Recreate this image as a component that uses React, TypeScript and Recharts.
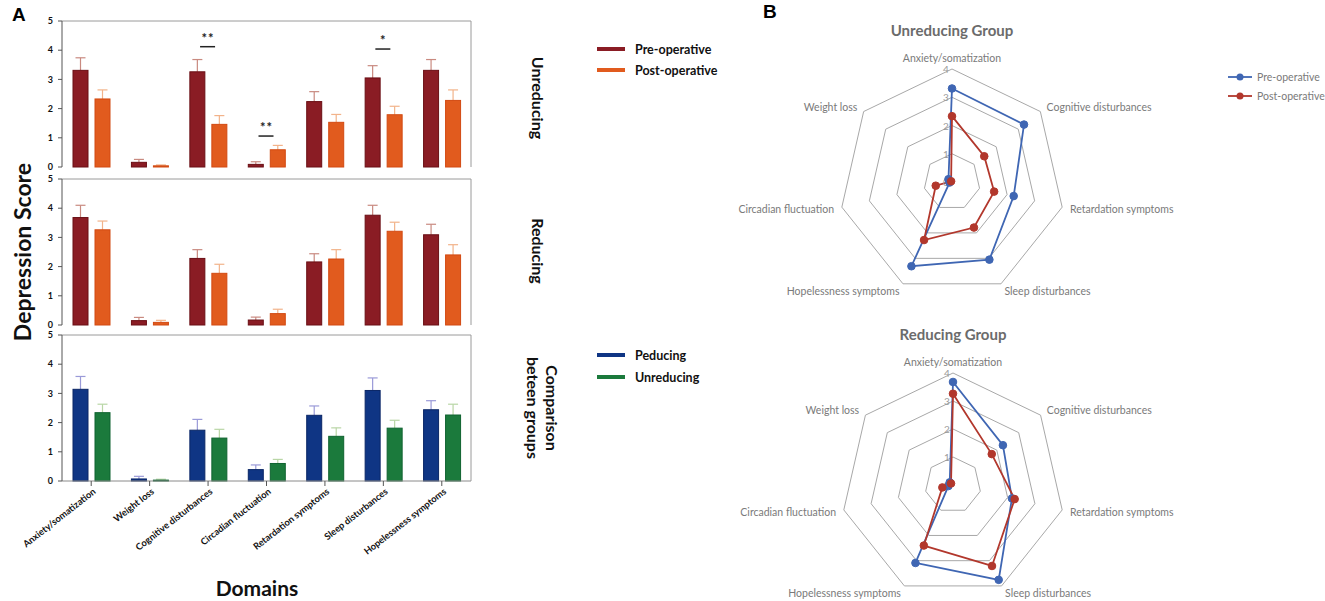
import React from 'react'
import {
  BarChart,
  Bar,
  XAxis,
  YAxis,
  ReferenceLine,
  ReferenceDot,
  RadarChart,
  Radar,
  PolarGrid,
  PolarAngleAxis,
  PolarRadiusAxis,
} from 'recharts'

const domains = [
  'Anxiety/somatization',
  'Weight loss',
  'Cognitive disturbances',
  'Circadian fluctuation',
  'Retardation symptoms',
  'Sleep disturbances',
  'Hopelessness symptoms',
]

// Unreducing group
const unredPre = [3.31, 0.16, 3.26, 0.09, 2.24, 3.05, 3.31]
const unredPreErr = [0.43, 0.1, 0.42, 0.09, 0.34, 0.42, 0.37]
const unredPost = [2.33, 0.04, 1.46, 0.59, 1.53, 1.79, 2.28]
const unredPostErr = [0.31, 0.03, 0.3, 0.15, 0.27, 0.29, 0.36]

// Reducing group
const redPre = [3.68, 0.15, 2.28, 0.17, 2.16, 3.76, 3.09]
const redPreErr = [0.42, 0.11, 0.3, 0.1, 0.28, 0.34, 0.36]
const redPost = [3.26, 0.09, 1.77, 0.39, 2.26, 3.21, 2.4]
const redPostErr = [0.3, 0.07, 0.31, 0.15, 0.32, 0.31, 0.35]

// Comparison between groups
const cmpRed = [3.14, 0.07, 1.74, 0.39, 2.25, 3.1, 2.44]
const cmpRedErr = [0.44, 0.09, 0.37, 0.16, 0.32, 0.43, 0.31]
const cmpUnred = [2.34, 0.03, 1.47, 0.6, 1.53, 1.81, 2.26]
const cmpUnredErr = [0.29, 0.03, 0.3, 0.14, 0.29, 0.27, 0.37]

const yTicks = [0, 1, 2, 3, 4, 5]

// significance marks in the unreducing panel
const sigDomains = ['Cognitive disturbances', 'Circadian fluctuation', 'Sleep disturbances']
const sigLevels = [4.12, 1.06, 4.04]
const sigMarks = ['**', '**', '*']

// radar axis order, clockwise from top
const radarOrder = [
  'Anxiety/somatization',
  'Cognitive disturbances',
  'Retardation symptoms',
  'Sleep disturbances',
  'Hopelessness symptoms',
  'Circadian fluctuation',
  'Weight loss',
]
const radarTicks = [0, 1, 2, 3, 4]

const FONT = 'Lato, "Noto Sans", sans-serif'
const BLUE = '#3f66b3'
const RED = '#b2372c'

const SERIES = {
  pre: { fill: '#8a1c24', stroke: '#6a0e14', err: '#c98a80' },
  post: { fill: '#e15b1e', stroke: '#d24a12', err: '#f2b38a' },
  red: { fill: '#0f3584', stroke: '#0a2666', err: '#9a9ad8' },
  unred: { fill: '#1b7a3c', stroke: '#0f6230', err: '#b9d6a6' },
}

// bar with an upward-only error whisker, scaled from the bar's own pixel height
const barWithError = (valKey: string, errKey: string, c: { fill: string; stroke: string; err: string }) =>
  (props: any) => {
    const { x, y, width, height, payload } = props
    const v = payload[valKey]
    const ppu = v ? height / v : 0
    const top = y - payload[errKey] * ppu
    const cx = x + width / 2
    return (
      <g>
        <line x1={cx} y1={y} x2={cx} y2={top} stroke={c.err} strokeWidth={1.2} />
        <line x1={cx - 5} y1={top} x2={cx + 5} y2={top} stroke={c.err} strokeWidth={1.2} />
        <rect x={x} y={y} width={width} height={height} fill={c.fill} stroke={c.stroke} strokeWidth={1} />
      </g>
    )
  }

const DomainTick = ({ x, y, payload }: any) => (
  <text
    x={x + 3}
    y={y + 2}
    transform={`rotate(-38, ${x + 3}, ${y + 2})`}
    textAnchor="end"
    dominantBaseline="central"
    fontSize={9.3}
    fontWeight={700}
    fontFamily={FONT}
    fill="#111"
  >
    {payload.value}
  </text>
)

const SigMark = (label: string) => (props: any) => {
  const { cx, cy } = props
  return (
    <g>
      <line x1={cx - 8} y1={cy} x2={cx + 7} y2={cy} stroke="#222" strokeWidth={1.5} />
      <text x={cx} y={cy - 4} textAnchor="middle" fontSize={13} fontWeight={700} fontFamily={FONT} fill="#222" letterSpacing={1}>
        {label}
      </text>
    </g>
  )
}

interface ScoreChartProps {
  a: number[]
  aErr: number[]
  b: number[]
  bErr: number[]
  ca: { fill: string; stroke: string; err: string }
  cb: { fill: string; stroke: string; err: string }
  top: number
  bottomAxis?: boolean
  marks?: boolean
}

function ScoreChart({ a, aErr, b, bErr, ca, cb, top, bottomAxis, marks }: ScoreChartProps) {
  const data = domains.map((name, i) => ({ name, a: a[i], aErr: aErr[i], b: b[i], bErr: bErr[i] }))
  const axisH = bottomAxis ? 80 : 0
  const padB = bottomAxis ? 0 : 7
  return (
    <div style={{ position: 'absolute', left: 0, top }}>
      <BarChart
        width={480}
        height={13 + 146 + axisH + padB}
        data={data}
        margin={{ top: 13, right: 8, left: 0, bottom: padB }}
        barGap={7}
        barSize={15}
      >
        <XAxis
          dataKey="name"
          height={axisH}
          axisLine={{ stroke: '#8a8a8a' }}
          tickLine={bottomAxis ? { stroke: '#555' } : false}
          tickSize={5}
          tick={bottomAxis ? <DomainTick /> : false}
          interval={0}
        />
        <YAxis
          domain={[0, 5]}
          ticks={yTicks}
          width={62}
          interval={0}
          axisLine={{ stroke: '#555' }}
          tickLine={{ stroke: '#555' }}
          tickSize={4}
          tickMargin={5}
          tick={{ fontSize: 9, fontWeight: 700, fill: '#111', fontFamily: FONT }}
        />
        <YAxis yAxisId="frame" orientation="right" domain={[0, 5]} width={1} tick={false} tickLine={false} axisLine={{ stroke: '#9a9a9a' }} />
        <ReferenceLine y={5} stroke="#9a9a9a" />
        <Bar dataKey="a" isAnimationActive={false} shape={barWithError('a', 'aErr', ca)} />
        <Bar dataKey="b" isAnimationActive={false} shape={barWithError('b', 'bErr', cb)} />
        {marks &&
          sigDomains.map((d, i) => (
            <ReferenceDot key={d} x={d} y={sigLevels[i]} shape={SigMark(sigMarks[i])} />
          ))}
      </BarChart>
    </div>
  )
}

const AngleTick = ({ x, y, textAnchor, payload }: any) => (
  <text
    x={x}
    y={textAnchor === 'middle' ? y - 3 : y}
    textAnchor={textAnchor}
    dominantBaseline="central"
    fontSize={10.5}
    fontFamily={FONT}
    fill="#7a7a7a"
  >
    {payload.value}
  </text>
)

const RadiusTick = ({ x, y, payload }: any) => (
  <text x={x - 6} y={y} textAnchor="middle" dominantBaseline="central" fontSize={10} fontFamily={FONT} fill="#9a9a9a">
    {payload.value}
  </text>
)

const radarDot = (color: string) => (p: any) => (
  <circle key={`${color}-${p.index}`} cx={p.cx} cy={p.cy} r={3.8} fill={color} stroke={color} />
)

function GroupRadar({ pre, post, left, top, h, cx, cy, r }: any) {
  const data = radarOrder.map((d) => {
    const i = domains.indexOf(d)
    return { domain: d, pre: pre[i], post: post[i] }
  })
  return (
    <div style={{ position: 'absolute', left, top }}>
      <RadarChart width={500} height={h} data={data} cx={cx} cy={cy} outerRadius={r} margin={{ top: 0, right: 0, bottom: 0, left: 0 }}>
        <PolarGrid gridType="polygon" radialLines={false} stroke="#a8a8a8" />
        <PolarAngleAxis dataKey="domain" tick={<AngleTick />} tickLine={false} axisLine={false} />
        <PolarRadiusAxis angle={90} domain={[0, 4]} ticks={radarTicks} tickCount={5} axisLine={false} tickLine={false} tick={<RadiusTick />} />
        <Radar dataKey="pre" stroke={BLUE} strokeWidth={1.8} fill="none" fillOpacity={0} dot={radarDot(BLUE)} isAnimationActive={false} />
        <Radar dataKey="post" stroke={RED} strokeWidth={1.8} fill="none" fillOpacity={0} dot={radarDot(RED)} isAnimationActive={false} />
      </RadarChart>
    </div>
  )
}

export default function App() {
  return (
    <div style={{ position: 'absolute', left: 0, top: 0, width: 1325, height: 601, background: '#fff', fontFamily: FONT }}>
      <ScoreChart a={unredPre} aErr={unredPreErr} b={unredPost} bErr={unredPostErr} ca={SERIES.pre} cb={SERIES.post} top={8} marks />
      <ScoreChart a={redPre} aErr={redPreErr} b={redPost} bErr={redPostErr} ca={SERIES.pre} cb={SERIES.post} top={166} />
      <ScoreChart a={cmpRed} aErr={cmpRedErr} b={cmpUnred} bErr={cmpUnredErr} ca={SERIES.red} cb={SERIES.unred} top={322} bottomAxis />

      <GroupRadar pre={unredPre} post={unredPost} left={700} top={0} h={310} cx={252} cy={182} r={113} />
      <GroupRadar pre={redPre} post={redPost} left={700} top={310} h={291} cx={253} cy={175} r={112} />

      <svg width={1325} height={601} style={{ position: 'absolute', left: 0, top: 0, pointerEvents: 'none' }}>
        <text x={12} y={21} fontSize={19} fontWeight={700} fontFamily="Liberation Sans, Arial, sans-serif">A</text>
        <text x={763} y={18} fontSize={19} fontWeight={700} fontFamily="Liberation Sans, Arial, sans-serif">B</text>

        <text transform="translate(22,252) rotate(-90)" textAnchor="middle" dominantBaseline="central" fontSize={23} fontWeight={700} fontFamily={FONT} fill="#111">
          Depression Score
        </text>
        <text x={257} y={596} textAnchor="middle" fontSize={21} fontWeight={700} fontFamily={FONT} fill="#111">
          Domains
        </text>

        <g fontSize={16} fontWeight={700} fontFamily={FONT} fill="#111" textAnchor="middle" dominantBaseline="central">
          <text transform="translate(538,98) rotate(90)">Unreducing</text>
          <text transform="translate(538,251) rotate(90)">Reducing</text>
          <text transform="translate(552,408) rotate(90)">Comparison</text>
          <text transform="translate(533,408) rotate(90)">beteen groups</text>
        </g>

        <g fontSize={12.5} fontWeight={700} fontFamily={FONT} fill="#111" dominantBaseline="central">
          <line x1={597} y1={49} x2={625} y2={49} stroke={SERIES.pre.fill} strokeWidth={4} />
          <text x={635} y={49}>Pre-operative</text>
          <line x1={597} y1={70} x2={625} y2={70} stroke={SERIES.post.fill} strokeWidth={4} />
          <text x={635} y={70}>Post-operative</text>
          <line x1={597} y1={355} x2={625} y2={355} stroke={SERIES.red.fill} strokeWidth={4} />
          <text x={635} y={355}>Peducing</text>
          <line x1={597} y1={377} x2={625} y2={377} stroke={SERIES.unred.fill} strokeWidth={4} />
          <text x={635} y={377}>Unreducing</text>
        </g>

        <g fontSize={15} fontWeight={700} fontFamily={FONT} fill="#6b6b6b" textAnchor="middle">
          <text x={952} y={36}>Unreducing Group</text>
          <text x={953} y={340}>Reducing Group</text>
        </g>

        <g fontSize={10.5} fontFamily={FONT} fill="#7a7a7a" dominantBaseline="central">
          <line x1={1228} y1={77} x2={1252} y2={77} stroke={BLUE} strokeWidth={1.8} />
          <circle cx={1240} cy={77} r={3.5} fill={BLUE} />
          <text x={1257} y={77}>Pre-operative</text>
          <line x1={1228} y1={96} x2={1252} y2={96} stroke={RED} strokeWidth={1.8} />
          <circle cx={1240} cy={96} r={3.5} fill={RED} />
          <text x={1257} y={96}>Post-operative</text>
        </g>
      </svg>
    </div>
  )
}
